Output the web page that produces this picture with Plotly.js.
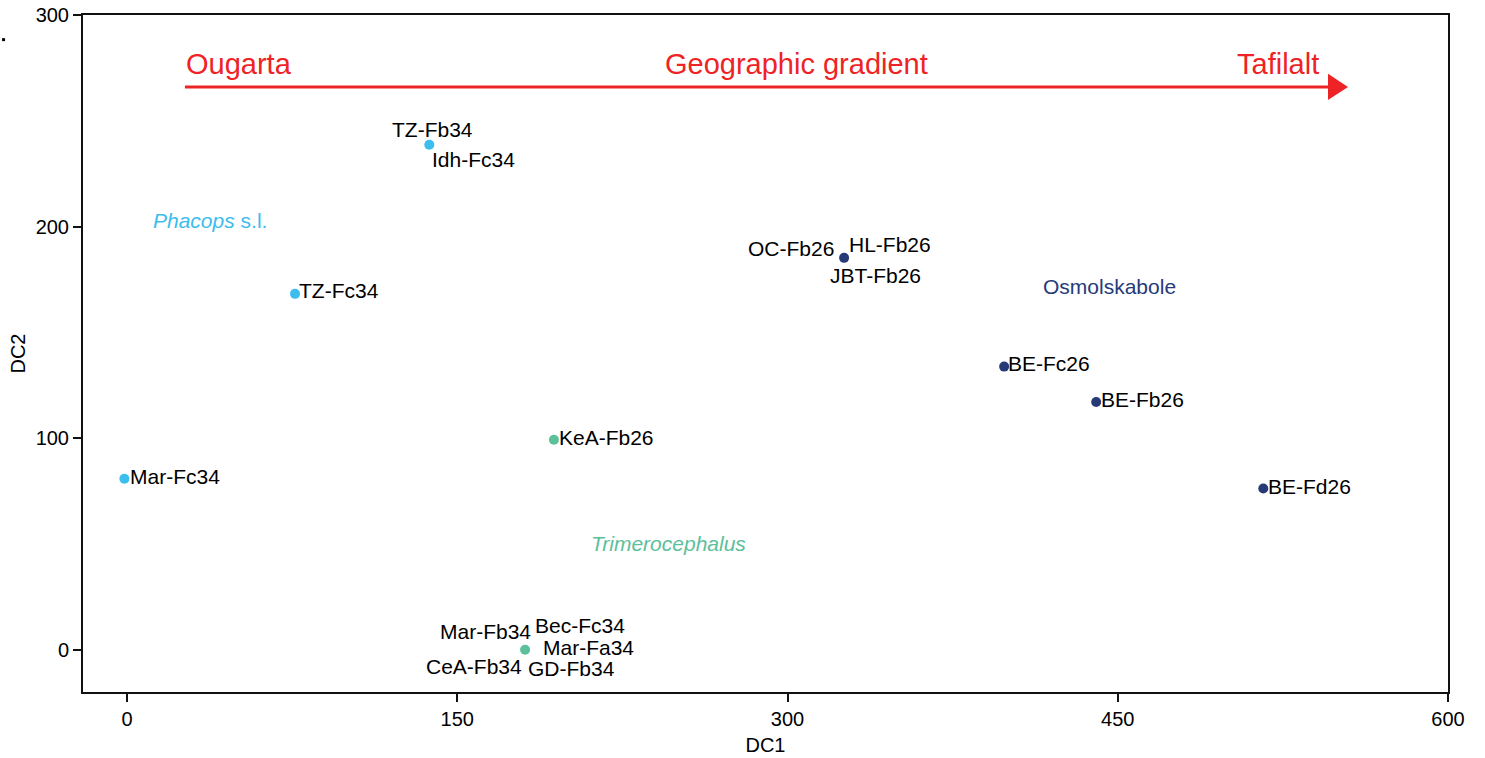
<!DOCTYPE html>
<html>
<head>
<meta charset="utf-8">
<script src="https://cdn.plot.ly/plotly-3.0.1.min.js"></script>
<style>html,body{margin:0;padding:0;background:#fff;}#chart{width:1485px;height:758px;}</style>
</head>
<body>
<div id="chart"></div>
<script>
// ---- data ----
const phacopsX = [-1.2, 76.3, 137.3];
const phacopsY = [80.8, 168.2, 238.7];
const phacopsLabels = [["Mar-Fc34"], ["TZ-Fc34"], ["TZ-Fb34", "Idh-Fc34"]];

const trimeroX = [193.9, 180.8];
const trimeroY = [99.2, 0];
const trimeroLabels = [["KeA-Fb26"], ["Mar-Fb34", "Bec-Fc34", "Mar-Fa34", "CeA-Fb34", "GD-Fb34"]];

const osmolX = [325.7, 398.4, 440.2, 516.1];
const osmolY = [185.2, 133.8, 117.1, 76.2];
const osmolLabels = [["OC-Fb26", "HL-Fb26", "JBT-Fb26"], ["BE-Fc26"], ["BE-Fb26"], ["BE-Fd26"]];

const groupNames = ["<i>Phacops</i> s.l.", "<i>Trimerocephalus</i>", "Osmolskabole"];
const xTicks = [0, 150, 300, 450, 600];
const yTicks = [0, 100, 200, 300];
const gradientLabels = ["Ougarta", "Geographic gradient", "Tafilalt"];

// ---- styling / placement ----
const colPh = "#3bbdee", colTr = "#5cc09a", colOs = "#263a78", red = "#ee2326";
const FONT = "Liberation Sans, Arial, sans-serif";
// label placement per label text: [xanchor, xshift, yshift]
const place = {
  "Mar-Fc34": ["left", 5, 2], "TZ-Fc34": ["left", 3, 3],
  "TZ-Fb34": ["center", 3, 15], "Idh-Fc34": ["left", 2, -15],
  "KeA-Fb26": ["left", 4, 2],
  "Mar-Fb34": ["right", 7, 18], "Bec-Fc34": ["left", 9, 24], "Mar-Fa34": ["left", 17, 2],
  "CeA-Fb34": ["right", -2, -17], "GD-Fb34": ["left", 2, -19],
  "OC-Fb26": ["right", -9, 9], "HL-Fb26": ["left", 4, 13], "JBT-Fb26": ["left", -15, -18],
  "BE-Fc26": ["left", 3, 3], "BE-Fb26": ["left", 4, 2], "BE-Fd26": ["left", 4, 2]
};

function trace(x, y, c) {
  return {x: x, y: y, type: "scatter", mode: "markers", hoverinfo: "skip",
    marker: {color: c, size: 10, line: {width: 0}}, cliponaxis: false};
}
const annotations = [];
function addLabels(xs, ys, labs) {
  xs.forEach((x, i) => {
    labs[i].forEach(t => {
      const p = place[t];
      annotations.push({x: x, y: ys[i], xref: "x", yref: "y", text: t, showarrow: false,
        xanchor: p[0], yanchor: "middle", xshift: p[1], yshift: p[2], borderpad: 0,
        font: {family: FONT, size: 21, color: "#000"}});
    });
  });
}
addLabels(phacopsX, phacopsY, phacopsLabels);
addLabels(trimeroX, trimeroY, trimeroLabels);
addLabels(osmolX, osmolY, osmolLabels);

// group names
annotations.push({x: 11.4, y: 203, text: groupNames[0], showarrow: false, xanchor: "left", yanchor: "middle",
  borderpad: 0, font: {family: FONT, size: 21, color: colPh}});
annotations.push({x: 210.3, y: 50, text: groupNames[1], showarrow: false, xanchor: "left", yanchor: "middle",
  borderpad: 0, font: {family: FONT, size: 21, color: colTr}});
annotations.push({x: 415.6, y: 171.5, text: groupNames[2], showarrow: false, xanchor: "left", yanchor: "middle",
  borderpad: 0, font: {family: FONT, size: 21, color: colOs}});

// gradient texts
annotations.push({x: 26.3, y: 277, text: gradientLabels[0], showarrow: false, xanchor: "left", yanchor: "middle",
  borderpad: 0, font: {family: FONT, size: 29, color: red}});
annotations.push({x: 304, y: 277, text: gradientLabels[1], showarrow: false, xanchor: "center", yanchor: "middle",
  borderpad: 0, font: {family: FONT, size: 29, color: red}});
annotations.push({x: 542, y: 277, text: gradientLabels[2], showarrow: false, xanchor: "right", yanchor: "middle",
  borderpad: 0, font: {family: FONT, size: 29, color: red}});

const shapes = [
  {type: "line", xref: "x", yref: "y", x0: 26.3, x1: 547, y0: 266, y1: 266, line: {color: red, width: 3}},
  {type: "path", xref: "x", yref: "y", path: "M 545.5 272.2 L 554.6 266 L 545.5 259.8 Z",
    fillcolor: red, line: {color: red, width: 0}},
  {type: "rect", xref: "paper", yref: "paper", x0: -0.0593, x1: -0.0571, y0: 0.9614, y1: 0.9658,
    fillcolor: "#000", line: {width: 0}}
];

const axisCommon = {
  showgrid: false, zeroline: false, showline: true, linecolor: "#111", linewidth: 2, mirror: true,
  ticks: "outside", ticklen: 8, tickwidth: 2, tickcolor: "#111",
  tickfont: {family: FONT, size: 20, color: "#000"}
};

const layout = {
  width: 1485, height: 758,
  margin: {l: 83, r: 37, t: 15, b: 66},
  paper_bgcolor: "#fff", plot_bgcolor: "#fff",
  showlegend: false,
  xaxis: Object.assign({}, axisCommon, {range: [-20, 600], tickvals: xTicks, ticktext: xTicks.map(String),
    title: {text: "DC1", font: {family: FONT, size: 20, color: "#000"}, standoff: 9}}),
  yaxis: Object.assign({}, axisCommon, {range: [-20, 300], tickvals: yTicks, ticktext: yTicks.map(String),
    title: {text: "DC2", font: {family: FONT, size: 20, color: "#000"}, standoff: 5}}),
  annotations: annotations,
  shapes: shapes
};

Plotly.newPlot("chart", [trace(phacopsX, phacopsY, colPh), trace(trimeroX, trimeroY, colTr), trace(osmolX, osmolY, colOs)],
  layout, {displayModeBar: false, staticPlot: true});
</script>
</body>
</html>
